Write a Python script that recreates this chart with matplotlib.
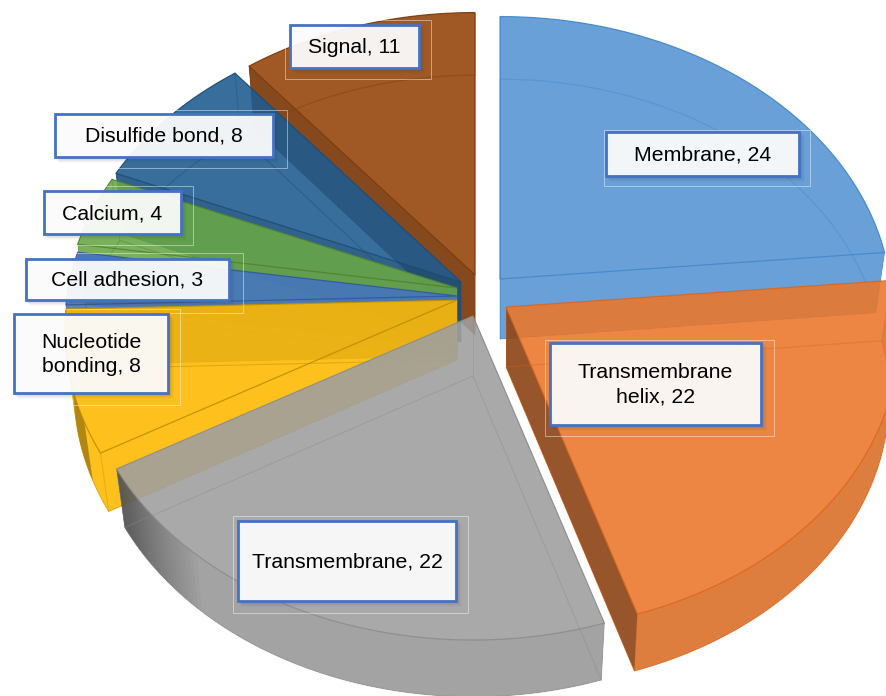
import numpy as np
import matplotlib
matplotlib.use("Agg")
import matplotlib.pyplot as plt
from matplotlib.patches import Polygon, Rectangle, PathPatch
from matplotlib.path import Path

# ---- data ----
categories = ["Membrane", "Transmembrane\nhelix", "Transmembrane", "Nucleotide\nbonding",
              "Cell adhesion", "Calcium", "Disulfide bond", "Signal"]
values = [24, 22, 22, 8, 3, 4, 8, 11]

# ---- style / layout ----
colors = ["#5594D2", "#EA772B", "#9F9F9F", "#FEB800", "#4474BE", "#68A646", "#1E5C8F", "#944309"]
edge_colors = ["#3F86CC", "#D9651C", "#8A8A8A", "#B58A00", "#2F5597", "#4F7F30", "#1C4A73", "#7A380A"]
apexes = [(500, 279), (506, 307), (473, 316), (457, 300), (457, 296), (457, 288), (461, 282), (475, 275)]
start_wall = [0.0, 0.0, 0.0, 0.0, 0.0, 0.0, 0.10, 0.16]   # darkening of the first radial wall
end_wall = [0.0, 0.36, 0.0, 0.0, 0.0, 0.0, 0.0, 0.0]      # darkening of the last radial wall
outer_wall = [0.0, 0.06, 0.03, 0.30, 0.0, 0.0, 0.0, 0.0]  # darkening of the rim
boxes = [(606, 132, 799, 176), (550, 343, 761, 425), (238, 521, 456, 601), (14, 314, 168, 393),
         (26, 259, 229, 300), (44, 191, 181, 234), (55, 114, 273, 157), (290, 25, 419, 68)]
halos = [(604, 130, 810, 186), (545, 340, 774, 436), (233, 516, 468, 613), (20, 309, 180, 405),
         (64, 253, 243, 313), (63, 186, 193, 245), (90, 110, 287, 168), (285, 20, 431, 79)]
draw_order = [7, 6, 5, 4, 3, 0, 1, 2]
DEPTH, RX, RY, K = 60.0, 390.0, 290.0, 0.105
BX, BY = 0.977, 0.99
ALPHA = 0.89

fig = plt.figure(figsize=(8.87, 6.96), dpi=100)
ax = fig.add_axes([0, 0, 1, 1])
ax.set_xlim(0, 887)
ax.set_ylim(696, 0)
ax.axis("off")


def project(apex, theta, bottom=False):
    u, v = np.sin(theta), np.cos(theta)
    s = 1.0 / (1.0 + K * v)
    x, y = RX * u * s, -RY * v * s
    if bottom:
        return np.column_stack([apex[0] + BX * x, apex[1] + DEPTH + BY * y])
    return np.column_stack([apex[0] + x, apex[1] + y])


def oriented(p):
    """Return ring p with positive signed area so nonzero winding gives the union."""
    x, y = p[:, 0], p[:, 1]
    area = np.sum(x * np.roll(y, -1) - np.roll(x, -1) * y)
    return p if area > 0 else p[::-1]


def union_patch(rings, **kw):
    verts, codes = [], []
    for r in rings:
        r = oriented(np.asarray(r))
        verts.extend(r.tolist() + [r[0].tolist()])
        codes.extend([Path.MOVETO] + [Path.LINETO] * (len(r) - 1) + [Path.CLOSEPOLY])
    return PathPatch(Path(verts, codes), **kw)


fractions = np.array(values, dtype=float) / np.sum(values)
bounds = np.concatenate([[0], np.cumsum(fractions)]) * 2 * np.pi

for i in draw_order:
    a0, a1 = bounds[i], bounds[i + 1]
    th = np.linspace(a0, a1, 80)
    apex = apexes[i]
    col, ec = colors[i], edge_colors[i]
    top = project(apex, th)
    bot = project(apex, th, bottom=True)
    tp = np.array(apex, dtype=float)
    bp = tp + [0, DEPTH]
    top_face = np.vstack([tp, top])
    bot_face = np.vstack([bp, bot])
    rim = [np.array([top[j], top[j + 1], bot[j + 1], bot[j]]) for j in range(len(th) - 1)]
    wall0 = np.array([tp, top[0], bot[0], bp])
    wall1 = np.array([tp, top[-1], bot[-1], bp])

    # the solid as one translucent body, so its own parts do not stack
    ax.add_patch(union_patch([top_face, bot_face, wall0, wall1] + rim, fc=col, ec="none", alpha=ALPHA, zorder=1))

    # shaded walls
    if start_wall[i] > 0:
        ax.add_patch(Polygon(wall0, closed=True, fc="black", ec="none", alpha=start_wall[i], zorder=1))
    if end_wall[i] > 0:
        ax.add_patch(Polygon(wall1, closed=True, fc="black", ec="none", alpha=end_wall[i], zorder=1))
    if outer_wall[i] > 0:
        sub = np.linspace(a1 - np.radians(22), a1 - np.radians(6), 40) if i == 3 else th
        ax.add_patch(Polygon(np.vstack([project(apex, sub), project(apex, sub, True)[::-1]]), closed=True,
                             fc="black", ec="none", alpha=outer_wall[i], zorder=1))
    if i == 2:   # dark fade at the left end of the grey rim
        for k in range(1, 25):
            sub = np.linspace(a1 - np.radians(0.8 * k), a1, 12)
            ax.add_patch(Polygon(np.vstack([project(apex, sub), project(apex, sub, True)[::-1]]),
                                 closed=True, fc="black", ec="none", alpha=0.02, zorder=1))

    # edges: crisp on the top face, faint on the hidden bottom
    ax.add_patch(Polygon(bot_face, closed=True, fc="none", ec=ec, lw=0.8, alpha=0.4, zorder=1))
    for j in (0, -1):
        ax.plot([top[j, 0], bot[j, 0]], [top[j, 1], bot[j, 1]], color=ec, lw=0.7, alpha=0.35, zorder=1)
    ax.plot([tp[0], bp[0]], [tp[1], bp[1]], color=ec, lw=0.7, alpha=0.3, zorder=1)
    ax.add_patch(Polygon(top_face, closed=True, fc="none", ec=ec, lw=0.9, alpha=0.8, zorder=1))

# label boxes
for name, val, b, h in zip(categories, values, boxes, halos):
    x0, y0, x1, y1 = b
    hx0, hy0, hx1, hy1 = h
    ax.add_patch(Rectangle((hx0, hy0), hx1 - hx0, hy1 - hy0, fc="none", ec="white", lw=0.7,
                           alpha=0.45, zorder=3))
    for d, a in ((7, 0.03), (6, 0.04), (5, 0.05), (4, 0.06), (3, 0.08)):
        ax.add_patch(Rectangle((x0 + d - 3, y0 + d - 3), x1 - x0 + 2, y1 - y0 + 2, fc="#404040", ec="none",
                               alpha=a, zorder=4))
    ax.add_patch(Rectangle((x0, y0), x1 - x0, y1 - y0, fc=(1, 1, 1, 0.93), ec="#4472C4", lw=2.0, zorder=5))
    ax.text((x0 + x1) / 2, (y0 + y1) / 2 + 1, f"{name}, {val}", ha="center", va="center",
            family="Liberation Sans", fontsize=15.3, color="#000000", linespacing=1.36, zorder=6)

fig.savefig("out.png", dpi=100, facecolor="white")
